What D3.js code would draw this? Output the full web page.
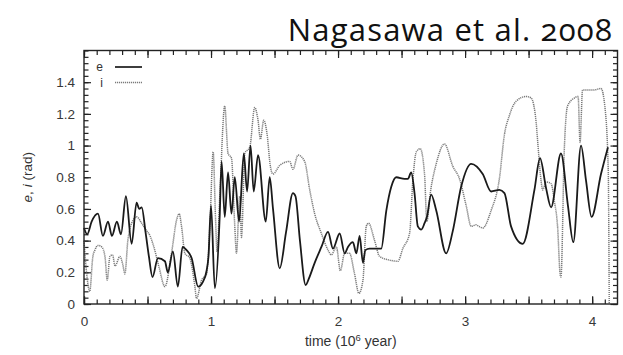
<!DOCTYPE html>
<html><head><meta charset="utf-8">
<script src="https://cdn.jsdelivr.net/npm/d3@7"></script>
<style>
body{margin:0;background:#fff;}
svg{display:block;}
</style></head>
<body>
<svg id="chart" width="623" height="355"></svg>
<script>
const chartTitle = "Nagasawa et al. 2008";
const xTickValues = [0, 1, 2, 3, 4];
const yTickValues = [0, 0.2, 0.4, 0.6, 0.8, 1, 1.2, 1.4];
const seriesNames = ["e", "i"];

// eccentricity e (time in 10^6 yr, value in rad)
const eData = [
 [0.000,0.48],[0.025,0.44],[0.060,0.52],[0.110,0.57],[0.149,0.43],[0.189,0.52],[0.220,0.43],
 [0.259,0.52],[0.291,0.44],[0.330,0.68],[0.375,0.38],[0.414,0.64],[0.435,0.60],[0.454,0.61],
 [0.485,0.45],[0.511,0.30],[0.539,0.17],[0.582,0.29],[0.637,0.27],[0.660,0.20],[0.700,0.33],
 [0.739,0.11],[0.776,0.36],[0.807,0.34],[0.847,0.29],[0.899,0.11],[0.936,0.14],[0.965,0.21],
 [0.980,0.30],[1.000,0.62],[1.030,0.10],[1.069,0.57],[1.083,0.90],[1.108,0.55],[1.134,0.83],
 [1.161,0.57],[1.187,0.80],[1.221,0.52],[1.258,0.95],[1.284,0.71],[1.311,1.00],[1.336,0.71],
 [1.370,0.94],[1.431,0.52],[1.462,0.80],[1.488,0.60],[1.541,0.225],[1.590,0.45],[1.645,0.70],
 [1.665,0.68],[1.700,0.40],[1.745,0.12],[1.770,0.16],[1.816,0.26],[1.869,0.36],[1.921,0.455],
 [1.960,0.35],[2.013,0.445],[2.052,0.32],[2.078,0.36],[2.117,0.39],[2.144,0.32],[2.170,0.43],
 [2.196,0.26],[2.215,0.34],[2.248,0.35],[2.340,0.35],[2.380,0.59],[2.419,0.74],[2.458,0.80],
 [2.524,0.79],[2.550,0.79],[2.576,0.83],[2.602,0.70],[2.628,0.49],[2.655,0.47],[2.681,0.51],
 [2.700,0.55],[2.733,0.69],[2.773,0.59],[2.851,0.32],[2.903,0.46],[2.969,0.74],[3.048,0.885],
 [3.139,0.82],[3.205,0.71],[3.270,0.72],[3.310,0.70],[3.362,0.49],[3.454,0.38],[3.546,0.72],
 [3.590,0.92],[3.638,0.73],[3.677,0.61],[3.755,0.95],[3.810,0.62],[3.852,0.39],[3.913,1.00],
 [3.952,0.78],[3.996,0.55],[4.070,0.82],[4.125,0.99]
];

// inclination i
const iData = [
 [0.000,0.40],[0.020,0.20],[0.045,0.08],[0.070,0.30],[0.086,0.34],[0.110,0.37],[0.140,0.36],
 [0.165,0.30],[0.183,0.15],[0.204,0.30],[0.225,0.31],[0.244,0.24],[0.283,0.30],[0.305,0.25],
 [0.322,0.19],[0.345,0.40],[0.375,0.51],[0.414,0.55],[0.454,0.51],[0.485,0.47],[0.520,0.43],
 [0.550,0.36],[0.590,0.235],[0.637,0.11],[0.689,0.32],[0.729,0.53],[0.749,0.57],[0.768,0.49],
 [0.794,0.32],[0.833,0.29],[0.873,0.11],[0.886,0.035],[0.925,0.15],[0.965,0.19],[0.991,0.49],
 [1.017,0.96],[1.035,0.55],[1.048,0.33],[1.069,0.68],[1.108,1.25],[1.134,0.95],[1.161,0.92],
 [1.187,0.49],[1.200,0.32],[1.226,0.68],[1.240,0.42],[1.266,0.95],[1.305,0.99],[1.344,1.24],
 [1.370,1.16],[1.389,1.04],[1.415,1.16],[1.440,1.08],[1.468,0.865],[1.488,0.82],[1.541,0.875],
 [1.619,0.90],[1.645,0.85],[1.685,0.94],[1.737,0.90],[1.777,0.72],[1.816,0.57],[1.869,0.445],
 [1.921,0.34],[1.947,0.31],[1.987,0.36],[2.018,0.21],[2.052,0.32],[2.090,0.32],[2.130,0.19],
 [2.164,0.067],[2.196,0.15],[2.222,0.49],[2.240,0.51],[2.288,0.40],[2.327,0.30],[2.392,0.28],
 [2.471,0.27],[2.510,0.35],[2.563,0.445],[2.589,0.78],[2.616,0.96],[2.647,0.98],[2.681,0.82],
 [2.699,0.52],[2.726,0.70],[2.773,0.885],[2.838,1.01],[2.903,0.87],[2.956,0.79],[3.009,0.62],
 [3.048,0.49],[3.087,0.50],[3.100,0.495],[3.139,0.48],[3.205,0.59],[3.270,0.79],[3.310,1.07],
 [3.349,1.19],[3.402,1.28],[3.481,1.31],[3.520,1.30],[3.559,1.15],[3.579,0.95],[3.598,0.78],
 [3.611,0.72],[3.638,0.77],[3.677,0.76],[3.703,0.65],[3.729,0.48],[3.748,0.19],[3.755,0.17],
 [3.781,0.97],[3.807,1.25],[3.860,1.30],[3.890,1.31],[3.905,1.02],[3.925,1.35],[4.004,1.35],
 [4.070,1.36],[4.100,1.25],[4.127,0.85],[4.135,0.0]
];

const svg = d3.select("#chart");
const L = 84, R = 617.5, T = 50.5, B = 304;
const x = d3.scaleLinear().domain([0, 4.2]).range([L, R]);
const y = d3.scaleLinear().domain([0, 1.6]).range([B, T]);
const font = '"Liberation Sans", Arial, Helvetica, sans-serif';

// title
svg.append("text").attr("x", 613).attr("y", 41).attr("text-anchor", "end")
  .style("font-family", '"Open Sans", sans-serif').style("font-size", "31px")
  .style("letter-spacing", "1.2px")
  .style("font-variant-numeric", "oldstyle-nums").style("font-feature-settings", '"onum" 1')
  .attr("fill", "#111").text(chartTitle);

const xMinor = d3.range(0, 42).map(d => d / 10);
const xMid = d3.range(0, 9).map(d => d / 2);
const yMinor = d3.range(0, 41).map(d => d * 0.04);

function styleAxis(g) {
  g.select(".domain").remove();
  g.selectAll(".tick line").attr("stroke", "#222").attr("stroke-width", 1.2);
  g.selectAll(".tick text").attr("fill", "#383838").style("font-size", "13.5px").style("font-family", font);
}
// minor ticks
svg.append("g").attr("transform", `translate(0,${B})`).call(d3.axisBottom(x).tickValues(xMinor).tickSize(-4.5).tickFormat("")).call(styleAxis);
svg.append("g").attr("transform", `translate(0,${T})`).call(d3.axisTop(x).tickValues(xMinor).tickSize(-4.5).tickFormat("")).call(styleAxis);
svg.append("g").attr("transform", `translate(0,${B})`).call(d3.axisBottom(x).tickValues(xMid).tickSize(-7.5).tickFormat("")).call(styleAxis);
svg.append("g").attr("transform", `translate(0,${T})`).call(d3.axisTop(x).tickValues(xMid).tickSize(-7.5).tickFormat("")).call(styleAxis);
svg.append("g").attr("transform", `translate(${L},0)`).call(d3.axisLeft(y).tickValues(yMinor).tickSize(-4.5).tickFormat("")).call(styleAxis);
svg.append("g").attr("transform", `translate(${R},0)`).call(d3.axisRight(y).tickValues(yMinor).tickSize(-4.5).tickFormat("")).call(styleAxis);
// labelled major ticks
svg.append("g").attr("transform", `translate(0,${B})`).call(d3.axisBottom(x).tickValues(xTickValues).tickSize(-7.5).tickPadding(12).tickFormat(d3.format("d"))).call(styleAxis);
svg.append("g").attr("transform", `translate(${L},0)`).call(d3.axisLeft(y).tickValues(yTickValues).tickSize(-7).tickPadding(9).tickFormat(d => d3.format("")(+d.toFixed(1)))).call(styleAxis);
svg.append("g").attr("transform", `translate(${R},0)`).call(d3.axisRight(y).tickValues(yTickValues).tickSize(-7).tickFormat("")).call(styleAxis);

// curves
const line = d3.line().x(d => x(d[0])).y(d => y(d[1])).curve(d3.curveMonotoneX);
svg.append("path").datum(iData).attr("d", line).attr("fill", "none")
  .attr("stroke", "#7a7a7a").attr("stroke-width", 1.5).attr("stroke-dasharray", "1.2,0.8");
svg.append("path").datum(eData).attr("d", line).attr("fill", "none")
  .attr("stroke", "#1a1a1a").attr("stroke-width", 1.8);

// frame
svg.append("rect").attr("x", L).attr("y", T).attr("width", R - L).attr("height", B - T)
  .attr("fill", "none").attr("stroke", "#222").attr("stroke-width", 1.4);

// legend
const leg = svg.append("g");
seriesNames.forEach((n, k) => {
  const yy = 67 + k * 15.5;
  leg.append("text").attr("x", 103).attr("y", yy + 4).attr("text-anchor", "end")
    .style("font-family", font).style("font-size", "12px").attr("fill", "#333").text(n);
  leg.append("line").attr("x1", 115).attr("x2", 142).attr("y1", yy).attr("y2", yy)
    .attr("stroke", k === 0 ? "#1a1a1a" : "#7a7a7a").attr("stroke-width", k === 0 ? 1.7 : 1.5)
    .attr("stroke-dasharray", k === 0 ? null : "1.2,0.8");
});

// axis titles
const xt = svg.append("text").attr("x", (L + R) / 2).attr("y", 346).attr("text-anchor", "middle")
  .style("font-family", font).style("font-size", "14px").attr("fill", "#333");
xt.append("tspan").text("time (10");
xt.append("tspan").attr("dy", -5).style("font-size", "9.5px").text("6");
xt.append("tspan").attr("dy", 5).text(" year)");

const yt = svg.append("text").attr("transform", `translate(32,${(T + B) / 2}) rotate(-90)`)
  .attr("text-anchor", "middle").style("font-family", font).style("font-size", "13.5px").attr("fill", "#333");
yt.append("tspan").style("font-style", "italic").text("e");
yt.append("tspan").text(", ");
yt.append("tspan").style("font-style", "italic").text("i");
yt.append("tspan").text(" (rad)");
</script>
</body></html>
